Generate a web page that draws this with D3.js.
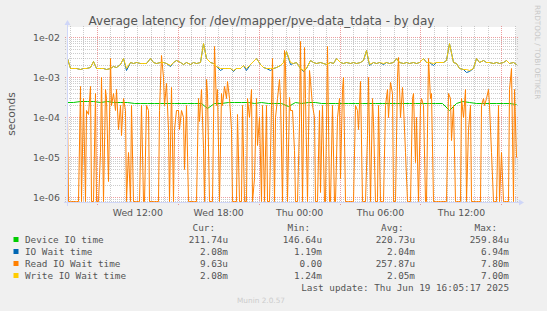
<!DOCTYPE html>
<html>
<head>
<meta charset="utf-8">
<script src="https://cdnjs.cloudflare.com/ajax/libs/d3/7.8.5/d3.min.js"></script>
<style>
  body { margin: 0; background: #f0f0f0; }
  svg { display: block; }
</style>
</head>
<body>
<div id="chart"></div>
<script>
// time span of the graph (33h20m ending at last update)
var endTime = new Date(2025, 5, 19, 16, 5);
var startTime = new Date(endTime.getTime() - 2000 * 60 * 1000);

var title = "Average latency for /dev/mapper/pve-data_tdata - by day";
var yMin = 7.4e-7, yMax = 1.75e-2;
var yMajorTicks = [1e-2, 1e-3, 1e-4, 1e-5, 1e-6];
var yTickLabels = ["1e-02", "1e-03", "1e-04", "1e-05", "1e-06"];
var xTickTimes = [new Date(2025, 5, 18, 12), new Date(2025, 5, 18, 18), new Date(2025, 5, 19, 0),
  new Date(2025, 5, 19, 6), new Date(2025, 5, 19, 12)];

// series (seconds), evenly spaced over the time span
var deviceIO = [2.4e-4, 2.35e-4, 2.45e-4, 2.5e-4, 2.45e-4, 2.4e-4, 2.45e-4, 2.3e-4, 2.35e-4, 2.3e-4,
  2.25e-4, 2.2e-4, 2.25e-4, 2.2e-4, 2.2e-4, 2.15e-4, 2.2e-4, 2.2e-4, 2.25e-4, 2.2e-4,
  2.2e-4, 1.7e-4, 2.2e-4, 2.25e-4, 2.35e-4, 2.4e-4, 2.3e-4, 2.3e-4, 2.25e-4, 2.3e-4,
  2.25e-4, 2.2e-4, 2.25e-4, 1.9e-4, 2.3e-4, 2.25e-4, 2.4e-4, 2.3e-4, 2.25e-4, 2.2e-4,
  2.25e-4, 2.2e-4, 2.25e-4, 2.2e-4, 2.25e-4, 2.2e-4, 2.15e-4, 2.2e-4, 2.15e-4, 2.2e-4,
  2.15e-4, 2.2e-4, 2.15e-4, 2.2e-4, 2.15e-4, 2.2e-4, 2.15e-4, 1.47e-4, 2.2e-4, 2.45e-4,
  2.4e-4, 2.2e-4, 2.15e-4, 2.2e-4, 2.15e-4, 2.2e-4, 2.15e-4, 2.12e-4];

var ioWait = [2.9e-3, 1.7e-3, 1.62e-3, 1.7e-3, 1.58e-3, 1.7e-3, 1.62e-3, 1.72e-3, 2.5e-3, 1.7e-3,
  1.62e-3, 1.7e-3, 1.58e-3, 1.7e-3, 1.9e-3, 1.8e-3, 2.05e-3, 3.0e-3, 1.5e-3, 2.3e-3,
  2.15e-3, 2.3e-3, 2.15e-3, 2.2e-3, 2.15e-3, 2.9e-3, 2.3e-3, 2.15e-3, 2.3e-3, 2.4e-3,
  2.15e-3, 1.85e-3, 2.4e-3,
  2.6e-3, 2.3e-3, 2.05e-3, 2.3e-3, 2.05e-3, 2.3e-3, 2.15e-3, 2.3e-3, 6.94e-3, 2.9e-3,
  2.3e-3, 2.15e-3, 1.9e-3, 1.5e-3, 1.7e-3, 1.62e-3, 1.7e-3, 1.4e-3, 1.7e-3, 1.62e-3,
  1.96e-3, 1.5e-3, 2.05e-3, 2.5e-3, 2.9e-3, 2.05e-3, 1.78e-3, 1.7e-3, 1.5e-3, 1.7e-3,
  1.78e-3, 1.96e-3, 2.4e-3, 4.3e-3,
  2.1e-3, 2.15e-3, 2.3e-3, 1.7e-3, 1.4e-3, 1.62e-3, 2.6e-3, 2.3e-3, 2.15e-3, 2.3e-3,
  2.15e-3, 2.05e-3, 2.3e-3, 2.15e-3, 2.9e-3, 2.3e-3, 2.15e-3, 2.3e-3, 2.15e-3, 2.3e-3,
  2.15e-3, 2.3e-3, 2.6e-3, 4.6e-3, 1.95e-3, 2.3e-3, 2.15e-3, 2.3e-3, 2.05e-3, 2.4e-3,
  2.15e-3, 2.3e-3, 2.9e-3, 2.3e-3,
  2.15e-3, 2.3e-3, 2.15e-3, 2.3e-3, 2.15e-3, 2.3e-3, 3.0e-3, 2.3e-3, 2.4e-3, 2.0e-3,
  2.3e-3, 2.4e-3, 2.3e-3, 2.6e-3, 6.85e-3, 2.3e-3, 2.15e-3, 1.62e-3, 1.58e-3, 1.3e-3,
  1.4e-3, 1.62e-3, 3.0e-3, 2.4e-3, 2.6e-3, 2.3e-3, 2.4e-3, 2.15e-3, 2.3e-3, 2.15e-3,
  2.4e-3, 2.6e-3, 2.15e-3, 2.3e-3, 2.08e-3];

var readWait = [1.5e-4, 0, 0, 0, 0, 0, 0, 0, 6e-4, 0, 3e-4, 0, 1.5e-4, 1.2e-4, 6e-4, 0, 0, 4e-4, 0, 0,
  1.3e-5, 1e-3, 0, 5e-4, 3e-4, 2.5e-6, 3e-3, 2e-4, 4e-4, 1.5e-4, 5e-4, 5e-5, 2e-4, 3.5e-5, 3e-4, 1.5e-4, 0, 1.3e-5, 0, 2e-4,
  0, 0, 0, 0, 0, 2e-4, 0, 0, 2e-4, 1.5e-4, 0, 0, 0, 0, 0, 0, 1.5e-4, 3.5e-3, 1e-3, 2e-4,
  7e-4, 5e-5, 0, 5.6e-4, 0, 5e-5,
  1.5e-4, 1.5e-4, 5e-5, 1.5e-4, 1e-4, 5e-6, 2e-4, 0, 0, 0, 0, 0, 0, 3e-4, 8e-5, 5e-4, 1.7e-5, 0, 9e-4, 4e-4,
  0, 0, 0, 6e-3, 2e-4, 5e-4, 0, 4e-4, 2e-4, 6e-4, 3e-4, 8e-4, 3e-4, 5e-5, 0, 0, 0, 1.2e-4, 0, 0,
  2e-4, 0, 0, 3e-4, 1e-4, 5e-4, 0, 3e-6, 3e-4, 2e-5, 1e-4, 0, 2e-4, 0, 2e-4, 0, 0, 2e-4, 2.9e-3, 0,
  1e-4, 3e-4, 9e-4, 3e-4, 0, 4.6e-3, 2e-3, 0,
  3.2e-4, 1.5e-4, 1.5e-4, 1.5e-5, 0, 0, 7e-5, 7.8e-3, 0, 5.6e-3, 3e-4, 0, 1.5e-3, 8e-4, 2e-4, 1e-4, 0, 0, 1.5e-4, 1.3e-6,
  2e-4, 0, 0, 6e-3, 0, 0, 2e-4, 0, 0, 1e-4, 3e-4, 3e-6, 5e-4, 1e-3, 0, 0, 0, 0, 0, 0,
  2e-4, 1.5e-4, 5e-5, 8e-4, 0, 0, 0, 3.5e-5, 1e-3, 0, 3e-4, 8e-5, 0, 0, 2e-4, 0, 0, 0, 2e-4, 5e-4,
  1e-4, 7.5e-4, 4e-4, 0, 0, 1e-3, 3.2e-3, 1e-4,
  5.6e-4, 2e-4, 1.3e-5, 0, 0, 0, 3e-4, 4e-4, 7.5e-6, 1e-4, 0, 2e-4, 3e-4, 2e-4, 0, 0, 2.9e-3, 3e-4, 4e-4, 0,
  0, 0, 0, 0, 0, 0, 0, 0, 4e-4, 3e-4, 2.6e-5, 2e-4, 0, 0, 0, 0, 3e-4, 1e-4, 5e-4, 0,
  5e-5, 2e-4, 0, 0, 0, 0, 0, 0, 2e-4, 3e-4, 2e-4, 3e-4, 5e-4, 2e-4, 1.3e-5, 0, 0, 0, 2e-4, 0,
  1.3e-5, 0, 0, 0, 0, 5e-4, 1.65e-3, 0, 5e-4, 9.63e-6];

var writeWait = [2.9e-3, 1.7e-3, 1.62e-3, 1.7e-3, 1.58e-3, 1.7e-3, 1.62e-3, 1.72e-3, 2.5e-3, 1.7e-3,
  1.62e-3, 1.7e-3, 1.58e-3, 1.7e-3, 1.9e-3, 1.8e-3, 2.05e-3, 3.0e-3, 1.65e-3, 2.3e-3,
  2.15e-3, 2.3e-3, 2.15e-3, 2.2e-3, 2.15e-3, 2.9e-3, 2.3e-3, 2.15e-3, 2.3e-3, 2.4e-3,
  2.15e-3, 1.96e-3, 2.4e-3,
  2.6e-3, 2.3e-3, 2.05e-3, 2.3e-3, 2.05e-3, 2.3e-3, 2.15e-3, 2.3e-3, 7.0e-3, 2.9e-3,
  2.3e-3, 2.15e-3, 1.9e-3, 1.62e-3, 1.7e-3, 1.62e-3, 1.7e-3, 1.5e-3, 1.7e-3, 1.62e-3,
  1.96e-3, 1.62e-3, 2.05e-3, 2.5e-3, 2.9e-3, 2.05e-3, 1.78e-3, 1.7e-3, 1.62e-3, 1.7e-3,
  1.78e-3, 1.96e-3, 2.4e-3, 4.3e-3,
  2.3e-3, 2.15e-3, 2.3e-3, 1.7e-3, 1.47e-3, 1.62e-3, 2.6e-3, 2.3e-3, 2.15e-3, 2.3e-3,
  2.15e-3, 2.05e-3, 2.3e-3, 2.15e-3, 2.9e-3, 2.3e-3, 2.15e-3, 2.3e-3, 2.15e-3, 2.3e-3,
  2.15e-3, 2.3e-3, 2.6e-3, 4.6e-3, 2.05e-3, 2.3e-3, 2.15e-3, 2.3e-3, 2.15e-3, 2.4e-3,
  2.15e-3, 2.3e-3, 2.9e-3, 2.3e-3,
  2.15e-3, 2.3e-3, 2.15e-3, 2.3e-3, 2.15e-3, 2.3e-3, 3.0e-3, 2.3e-3, 2.4e-3, 2.15e-3,
  2.3e-3, 2.4e-3, 2.3e-3, 2.6e-3, 6.9e-3, 2.3e-3, 2.15e-3, 1.62e-3, 1.58e-3, 1.55e-3,
  1.47e-3, 1.62e-3, 3.0e-3, 2.4e-3, 2.6e-3, 2.3e-3, 2.4e-3, 2.15e-3, 2.3e-3, 2.15e-3,
  2.4e-3, 2.6e-3, 2.15e-3, 2.3e-3, 2.08e-3];

// legend
var legendNames = ["Device IO time", "IO Wait time", "Read IO Wait time", "Write IO Wait time"];
var legendColors = ["#00cc00", "#0066b3", "#ff8000", "#ffcc00"];
var legendCur = ["211.74u", "2.08m", "9.63u", "2.08m"];
var legendMin = ["146.64u", "1.19m", "0.00", "1.24m"];
var legendAvg = ["220.73u", "2.04m", "257.87u", "2.05m"];
var legendMax = ["259.84u", "6.94m", "7.80m", "7.00m"];
var legendHeaders = ["Cur:", "Min:", "Avg:", "Max:"];
var lastUpdate = "Last update: Thu Jun 19 16:05:17 2025";

var W = 547, H = 311;
var X0 = 66.5, X1 = 516, Y0 = 202, Y1 = 27;
var mono = "'DejaVu Sans Mono', monospace";
var sans = "'DejaVu Sans', sans-serif";

var svg = d3.select("#chart").append("svg")
  .attr("width", W)
  .attr("height", H);

svg.append("rect").attr("width", W).attr("height", H).attr("fill", "#f0f0f0");

var x = d3.scaleTime().domain([startTime, endTime]).range([X0, X1]);
var y = d3.scaleLog().domain([yMin, yMax]).range([Y0, Y1]);

// canvas
svg.append("rect")
  .attr("x", Math.round(X0)).attr("y", Y1)
  .attr("width", X1 - Math.round(X0)).attr("height", Y0 - Y1)
  .attr("fill", "#ffffff");

// grid
var grid = svg.append("g").attr("shape-rendering", "crispEdges");
var minorY = [];
for (var k = -7; k <= -2; k++) {
  for (var m = 2; m <= 9; m++) {
    var v = m * Math.pow(10, k);
    if (v > yMin && v < yMax) minorY.push(v);
  }
}
var hourLines = d3.timeHour.range(d3.timeHour.ceil(startTime), endTime);
var minorX = hourLines.filter(function(d) { return d.getHours() % 6 != 3; });
var majorX = hourLines.filter(function(d) { return d.getHours() % 6 == 3; });

function px(v) { return Math.round(v) + 0.5; }

var minorColor = "rgba(143,143,143,0.45)", majorColor = "rgba(222,79,79,0.55)";
grid.selectAll(".vminor").data(minorX).enter().append("line")
  .attr("x1", function(d) { return px(x(d)); }).attr("x2", function(d) { return px(x(d)); })
  .attr("y1", Y1 - 1).attr("y2", Y0 + 1)
  .attr("stroke", minorColor).attr("stroke-dasharray", "1,1");
grid.selectAll(".hminor").data(minorY).enter().append("line")
  .attr("x1", X0 - 2).attr("x2", X1 + 2)
  .attr("y1", function(d) { return px(y(d)); }).attr("y2", function(d) { return px(y(d)); })
  .attr("stroke", minorColor).attr("stroke-dasharray", "1,1");
grid.selectAll(".vmajor").data(majorX).enter().append("line")
  .attr("x1", function(d) { return px(x(d)); }).attr("x2", function(d) { return px(x(d)); })
  .attr("y1", Y1 - 1).attr("y2", Y0 + 4)
  .attr("stroke", majorColor).attr("stroke-dasharray", "1,1");
grid.selectAll(".hmajor").data(yMajorTicks).enter().append("line")
  .attr("x1", X0 - 2).attr("x2", X1 + 2)
  .attr("y1", function(d) { return px(y(d)); }).attr("y2", function(d) { return px(y(d)); })
  .attr("stroke", majorColor).attr("stroke-dasharray", "1,1");

// series, snapped to pixel centres like rrdtool
function toPoints(values) {
  var step = (endTime - startTime) / (values.length - 1);
  return values.map(function(v, i) { return { t: new Date(startTime.getTime() + i * step), v: v }; });
}
var line = d3.line()
  .x(function(d) { return px(x(d.t)); })
  .y(function(d) { return Math.min(px(y(Math.max(d.v, yMin))), Y0 - 0.5); });

var seriesList = [deviceIO, ioWait, readWait, writeWait];
svg.append("g").selectAll("path")
  .data(seriesList)
  .enter()
  .append("path")
    .attr("d", function(d) { return line(toPoints(d)); })
    .attr("fill", "none")
    .attr("stroke", function(d, i) { return legendColors[i]; })
    .attr("stroke-width", 1);

// axes
var axisColor = "#cfd6f8";
svg.append("line").attr("x1", X0 - 3).attr("x2", X1 + 4).attr("y1", Y0 + 0.5).attr("y2", Y0 + 0.5)
  .attr("stroke", axisColor).attr("shape-rendering", "crispEdges");
svg.append("path").attr("d", "M" + (X1 + 3) + "," + (Y0 - 2.5) + "L" + (X1 + 8) + "," + (Y0 + 0.5) + "L" + (X1 + 3) + "," + (Y0 + 3.5) + "Z")
  .attr("fill", axisColor);
svg.append("line").attr("x1", px(X0)).attr("x2", px(X0)).attr("y1", Y0 + 4).attr("y2", Y1 - 3)
  .attr("stroke", axisColor).attr("shape-rendering", "crispEdges");
svg.append("path").attr("d", "M" + (px(X0) - 3) + "," + (Y1 - 2) + "L" + px(X0) + "," + (Y1 - 7) + "L" + (px(X0) + 3) + "," + (Y1 - 2) + "Z")
  .attr("fill", axisColor);

var yAxis = svg.append("g")
  .attr("transform", "translate(" + X0 + ",0)")
  .call(d3.axisLeft(y).tickValues(yMajorTicks)
    .tickFormat(function(d, i) { return yTickLabels[i]; })
    .tickSize(0).tickPadding(6.5));
yAxis.select(".domain").remove();
yAxis.selectAll("text").attr("font-family", sans).attr("font-size", "9.33px").attr("fill", "#555").attr("dy", "0.36em");

var xAxis = svg.append("g")
  .attr("transform", "translate(0," + Y0 + ")")
  .call(d3.axisBottom(x).tickValues(xTickTimes)
    .tickFormat(d3.timeFormat("%a %H:%M"))
    .tickSize(0).tickPadding(7));
xAxis.select(".domain").remove();
xAxis.selectAll("text").attr("font-family", sans).attr("font-size", "9.33px").attr("fill", "#555");

// titles
svg.append("text").attr("x", 261.5).attr("y", 25).attr("text-anchor", "middle")
  .attr("font-family", sans).attr("font-size", "12px").attr("fill", "#555").text(title);
svg.append("text").attr("transform", "translate(15,114) rotate(-90)").attr("text-anchor", "middle")
  .attr("font-family", sans).attr("font-size", "10.67px").attr("fill", "#555").text("seconds");
svg.append("text").attr("transform", "translate(535,5) rotate(90)")
  .attr("font-family", sans).attr("font-size", "7.33px").attr("fill", "#c8c8c8").text("RRDTOOL / TOBI OETIKER");

// legend
var legend = svg.append("g").attr("font-family", mono).attr("font-size", "9.33px").attr("fill", "#555");
var headerX = [215, 310, 403.5, 497];
legend.selectAll(".hdr").data(legendHeaders).enter().append("text")
  .attr("x", function(d, i) { return headerX[i]; }).attr("y", 231)
  .attr("text-anchor", "end").text(function(d) { return d; });

var rows = legend.selectAll(".row").data(legendNames).enter().append("g")
  .attr("transform", function(d, i) { return "translate(0," + (242.5 + i * 12) + ")"; });
rows.append("rect").attr("x", 13.5).attr("y", -5.5).attr("width", 5).attr("height", 5)
  .attr("fill", function(d, i) { return legendColors[i]; });
rows.append("text").attr("x", 25).text(function(d) { return d; });
var colX = [228, 322, 415, 509];
[legendCur, legendMin, legendAvg, legendMax].forEach(function(col, c) {
  rows.append("text").attr("x", colX[c]).attr("text-anchor", "end")
    .text(function(d, i) { return col[i]; });
});
legend.append("text").attr("x", 509).attr("y", 290.5).attr("text-anchor", "end").text(lastUpdate);

svg.append("text").attr("x", 261).attr("y", 303).attr("text-anchor", "middle")
  .attr("font-family", sans).attr("font-size", "7.33px").attr("fill", "#cccccc").text("Munin 2.0.57");
</script>
</body>
</html>
